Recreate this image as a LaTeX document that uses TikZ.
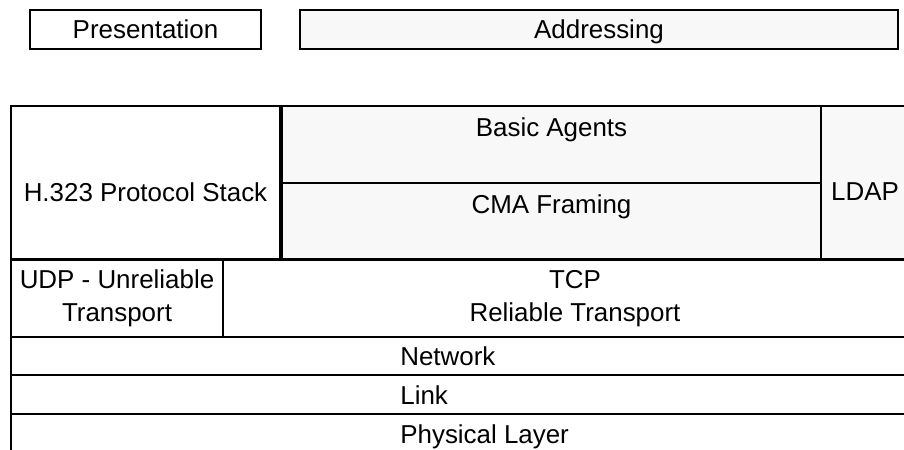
\documentclass[tikz,border=0pt]{standalone}
\usepackage{fontspec}
\setmainfont{Liberation Sans}
\definecolor{paleshade}{HTML}{F8F8F8}

\begin{document}
\begin{tikzpicture}[
		box/.style={rectangle, draw, line width=0.04cm, inner sep=0pt, fill=white, align=center, font=\fontsize{14.75pt}{18.7pt}\selectfont},
		single/.style={box, text height=0.38cm, text depth=0pt},
		shaded/.style={fill=paleshade},
		txt/.style={inner sep=0pt, font=\fontsize{14.75pt}{18.7pt}\selectfont, text height=0.38cm, text depth=0pt},
	]
	\useasboundingbox (0,0) rectangle (18.08,-8.98);
	\clip (0,0) rectangle (18.08,-8.98);

	% Top services
	\node[single, minimum width=4.62cm, minimum height=0.78cm] (present) at (2.91,-0.59) {Presentation};
	\node[single, shaded, minimum width=11.96cm, minimum height=0.78cm] (address) at (11.98,-0.59) {Addressing};

	% Application block
	\node[single, minimum width=5.38cm, minimum height=3.06cm, text height=0.74cm] (h323) at (2.91,-3.65) {H.323 Protocol Stack};
	\node[single, shaded, minimum width=10.78cm, minimum height=1.54cm, text depth=0.72cm] (agents) at (11.03,-2.89) {Basic Agents};
	\node[single, shaded, minimum width=10.78cm, minimum height=1.52cm, text depth=0.70cm] (framing) at (11.03,-4.42) {CMA Framing};
	\node[single, shaded, minimum width=1.76cm, minimum height=3.06cm, text height=0.70cm] (ldap) at (17.30,-3.65) {LDAP};

	% Transport
	\node[box, minimum width=4.24cm, minimum height=1.54cm] (udp) at (2.34,-5.97) {UDP - Unreliable\\Transport};
	\node[box, minimum width=14.08cm, minimum height=1.54cm] (tcp) at (11.50,-5.97) {TCP\\Reliable Transport};

	% Lower layers
	\node[box, minimum width=18.38cm, minimum height=0.76cm] (network) at (9.41,-7.12) {};
	\node[box, minimum width=18.38cm, minimum height=0.78cm] (link) at (9.41,-7.89) {};
	\node[box, minimum width=18.38cm, minimum height=0.78cm] (physical) at (9.41,-8.67) {};

	\node[txt, anchor=west] (networktxt) at ([xshift=7.8cm]network.west) {Network};
	\node[txt, anchor=west] (linktxt) at ([xshift=7.8cm]link.west) {Link};
	\node[txt, anchor=west] (physicaltxt) at ([xshift=7.8cm]physical.west) {Physical Layer};

\end{tikzpicture}
\end{document}
